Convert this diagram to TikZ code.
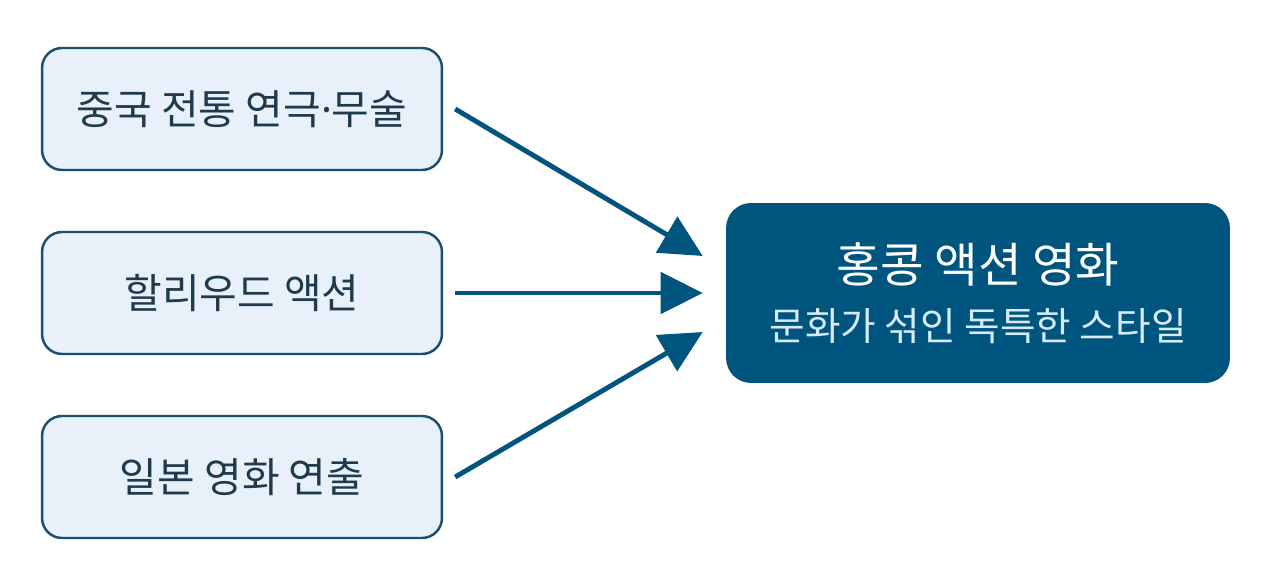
\documentclass[tikz,border=0pt]{standalone}
\usepackage{fontspec}
\setmainfont{Noto Sans CJK KR}
\newfontfamily\latinfont{Noto Sans}
\usetikzlibrary{arrows.meta,positioning}
\definecolor{edgeblue}{HTML}{1B4F72}
\definecolor{boxfill}{HTML}{E8F1F9}
\definecolor{textdark}{HTML}{1F3A4D}
\definecolor{mainblue}{HTML}{00557F}
\definecolor{sublight}{HTML}{D6EAF8}
\tikzset{
  srcbox/.style={draw=edgeblue,line width=1.4pt,fill=boxfill,rounded corners=0.4cm,
    minimum width=8cm,minimum height=2.44cm,text=textdark,font=\fontsize{23.3}{28}\selectfont},
  hkbox/.style={fill=mainblue,rounded corners=0.5cm,minimum width=10.08cm,
    minimum height=3.6cm,text=white,align=center},
  arr/.style={draw=mainblue,line width=2.8pt,-{Triangle[length=0.84cm,width=0.82cm]}}
}
\begin{document}
\begin{tikzpicture}[x=0.02cm,y=-0.02cm]
	\useasboundingbox (0,0) rectangle (1280,587);
	\node[srcbox] (zg) at (242,109) {중국 전통 연극{\latinfont ·}무술};
	\node[srcbox] (hw) at (242,293) {할리우드 액션};
	\node[srcbox] (jp) at (242,477) {일본 영화 연출};
	\node[hkbox] (hk) at (978,293) {{\fontsize{27}{32}\selectfont 홍콩 액션 영화}\\[12pt]
		{\color{sublight}\fontsize{22}{26}\selectfont 문화가 섞인 독특한 스타일}};
	% arrow tips, left of the target box
	\coordinate (t1) at ([xshift=-0.46cm,yshift=0.74cm]hk.west);
	\coordinate (t2) at ([xshift=-0.46cm]hk.west);
	\coordinate (t3) at ([xshift=-0.46cm,yshift=-0.78cm]hk.west);
	\draw[arr] ([xshift=0.24cm]zg.east) -- (t1);
	\draw[arr] ([xshift=0.24cm]hw.east) -- (t2);
	\draw[arr] ([xshift=0.24cm]jp.east) -- (t3);
\end{tikzpicture}
\end{document}
